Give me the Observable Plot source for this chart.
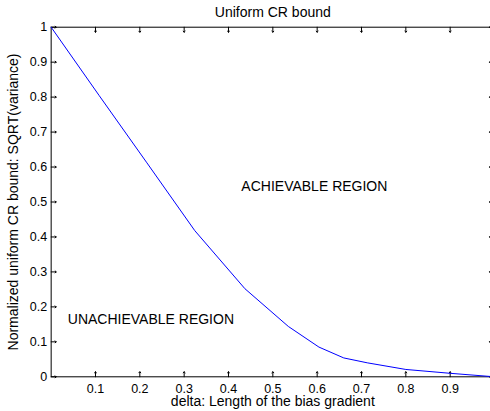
<!DOCTYPE html>
<html>
<head>
<meta charset="utf-8">
<script src="https://cdn.jsdelivr.net/npm/d3@7"></script>
<script src="https://cdn.jsdelivr.net/npm/@observablehq/plot@0.6"></script>
<style>
  html, body { margin: 0; padding: 0; background: #fff; overflow: hidden; width: 490px; height: 411px; }
  #chart { width: 490px; height: 411px; overflow: hidden; }
  #chart svg { display: block; max-width: none !important; }
</style>
</head>
<body>
<div id="chart"></div>
<script>
const title = "Uniform CR bound";
const xLabel = "delta: Length of the bias gradient";
const yLabel = "Normalized uniform CR bound: SQRT(variance)";

const delta = [0, 0.108, 0.216, 0.324, 0.437, 0.535, 0.604, 0.660, 0.713, 0.80, 0.90, 1.0];
const bound = [1, 0.805, 0.612, 0.418, 0.252, 0.144, 0.085, 0.054, 0.040, 0.021, 0.010, 0.0];

const xDomain = [0, 1];
const yDomain = [0, 1];
const xTicks = [0.1, 0.2, 0.3, 0.4, 0.5, 0.6, 0.7, 0.8, 0.9];
const yTicks = [0, 0.1, 0.2, 0.3, 0.4, 0.5, 0.6, 0.7, 0.8, 0.9, 1];

const regionText = ["ACHIEVABLE REGION", "UNACHIEVABLE REGION"];
const regionX = [0.429, 0.0375];
const regionY = [0.544, 0.163];

const curve = delta.map((d, i) => ({x: d, y: bound[i]}));
const regions = regionText.map((t, i) => ({t, x: regionX[i], y: regionY[i]}));

const font = "'Liberation Sans', Arial, Helvetica, sans-serif";
const tickLen = 5;

const chart = Plot.plot({
  width: 494,
  height: 411,
  marginLeft: 50.66,
  marginRight: 0,
  marginTop: 26.7,
  marginBottom: 34.7,
  x: {domain: xDomain},
  y: {domain: yDomain},
  style: {fontFamily: font, fontSize: "14px", color: "black", background: "white", overflow: "visible", maxWidth: "none"},
  marks: [
    // inward ticks on all four sides
    Plot.vector(xTicks, {x: d => d, y: () => yDomain[0], length: tickLen, rotate: 0, anchor: "start", stroke: "black", strokeWidth: 1}),
    Plot.vector(xTicks, {x: d => d, y: () => yDomain[1], length: tickLen, rotate: 180, anchor: "start", stroke: "black", strokeWidth: 1}),
    Plot.vector(yTicks, {y: d => d, x: () => xDomain[0], length: tickLen, rotate: 90, anchor: "start", stroke: "black", strokeWidth: 1}),
    Plot.vector(yTicks, {y: d => d, x: () => xDomain[1], length: tickLen, rotate: -90, anchor: "start", stroke: "black", strokeWidth: 1}),
    Plot.axisX({ticks: xTicks, tickSize: 0, tickPadding: 7.5, tickFormat: d => String(d), label: null, fontSize: 12.5}),
    Plot.axisY({ticks: yTicks, tickSize: 0, tickPadding: 4, tickFormat: d => String(d), label: null, fontSize: 12.5}),
    Plot.frame({stroke: "black", strokeWidth: 1}),
    Plot.line(curve, {x: "x", y: "y", stroke: "#0000ff", strokeWidth: 1}),
    Plot.text(regions, {x: "x", y: "y", text: "t", textAnchor: "start", lineAnchor: "middle", fill: "black"}),
    Plot.text([title], {frameAnchor: "top", dy: -15, textAnchor: "middle", lineAnchor: "middle", fill: "black"}),
    Plot.text([xLabel], {frameAnchor: "bottom", dy: 24.5, textAnchor: "middle", lineAnchor: "middle", fill: "black"}),
    Plot.text([yLabel], {frameAnchor: "left", dx: -38, rotate: -90, textAnchor: "middle", lineAnchor: "middle", fill: "black"})
  ]
});
document.getElementById("chart").append(chart);
</script>
</body>
</html>
